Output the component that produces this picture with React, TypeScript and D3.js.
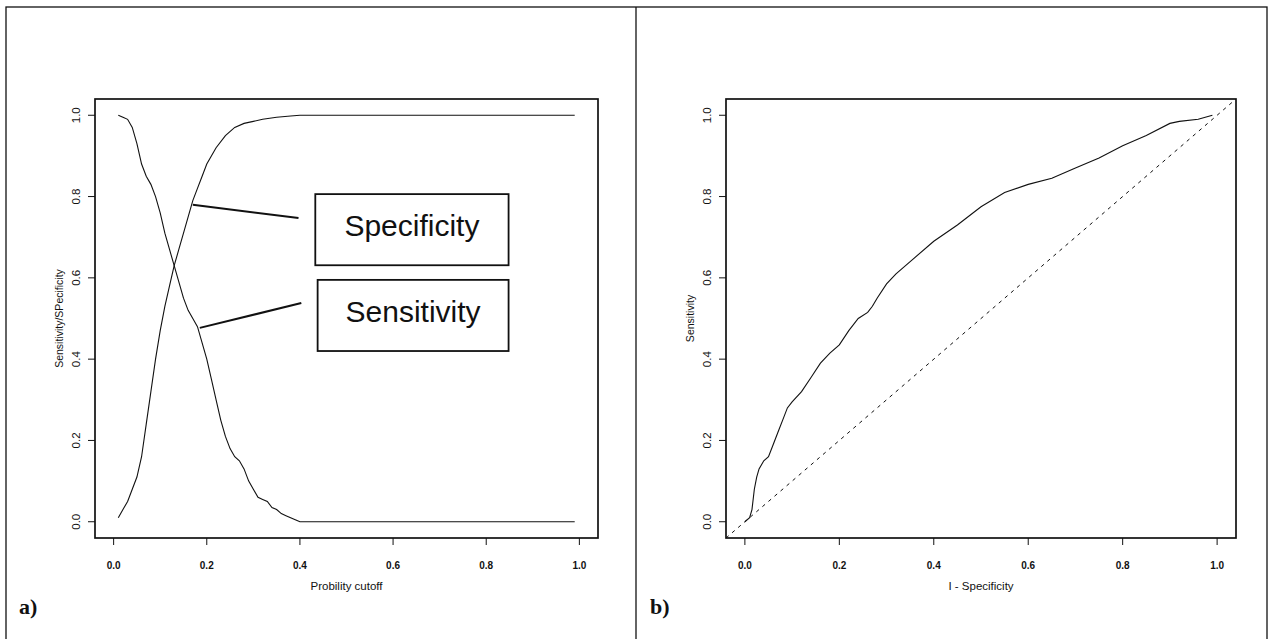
import React from "react";
import * as d3 from "d3";

// ---------- Data ----------
const specCutoff = [0.01,0.02,0.03,0.04,0.05,0.06,0.07,0.08,0.09,0.10,0.11,0.12,0.13,0.14,0.15,0.16,0.17,0.18,0.19,0.20,0.22,0.24,0.26,0.28,0.30,0.32,0.35,0.38,0.40,0.99];
const specValue = [0.01,0.03,0.05,0.08,0.11,0.16,0.24,0.32,0.40,0.47,0.53,0.58,0.63,0.67,0.71,0.75,0.79,0.82,0.85,0.88,0.92,0.95,0.97,0.98,0.985,0.99,0.995,0.998,1.0,1.0];

const sensCutoff = [0.01,0.02,0.03,0.04,0.05,0.06,0.07,0.08,0.09,0.10,0.11,0.12,0.13,0.14,0.15,0.16,0.17,0.18,0.19,0.20,0.21,0.22,0.23,0.24,0.25,0.26,0.27,0.28,0.29,0.30,0.31,0.32,0.33,0.34,0.35,0.36,0.37,0.38,0.39,0.40,0.99];
const sensValue = [1.0,0.995,0.99,0.97,0.93,0.88,0.85,0.83,0.80,0.76,0.71,0.67,0.63,0.59,0.55,0.52,0.50,0.48,0.44,0.40,0.35,0.30,0.25,0.21,0.18,0.16,0.15,0.13,0.10,0.08,0.06,0.055,0.05,0.035,0.03,0.02,0.015,0.01,0.005,0.0,0.0];

const rocFpr = [0,0.01,0.015,0.02,0.025,0.03,0.04,0.05,0.06,0.07,0.08,0.09,0.10,0.12,0.14,0.16,0.18,0.20,0.22,0.24,0.26,0.27,0.28,0.30,0.32,0.35,0.40,0.45,0.50,0.55,0.60,0.65,0.70,0.75,0.80,0.85,0.90,0.92,0.96,0.99];
const rocTpr = [0,0.01,0.03,0.08,0.11,0.13,0.15,0.16,0.19,0.22,0.25,0.28,0.295,0.32,0.355,0.39,0.415,0.435,0.47,0.50,0.515,0.53,0.55,0.585,0.61,0.64,0.69,0.73,0.775,0.81,0.83,0.845,0.87,0.895,0.925,0.95,0.98,0.985,0.99,1.0];

const xTicks = [0, 0.2, 0.4, 0.6, 0.8, 1.0];
const yTicks = [0, 0.2, 0.4, 0.6, 0.8, 1.0];

// annotation boxes (data coords of left panel)
const annLabels = ["Specificity", "Sensitivity"];
const annAnchorX = [0.17, 0.185];
const annAnchorY = [0.78, 0.477];
const annEndX = [0.397, 0.403];
const annEndY = [0.747, 0.538];
const annBoxX0 = [0.433, 0.438];
const annBoxX1 = [0.848, 0.848];
const annBoxY0 = [0.806, 0.595];
const annBoxY1 = [0.631, 0.42];

const W = 1270, H = 639;
const boxTop = 99, boxBottom = 538;

type PanelProps = {
  x0: number; x1: number;
  yLabel: string; xLabel: string; tag: string; tagX: number;
  children: (xs: d3.ScaleLinear<number, number>, ys: d3.ScaleLinear<number, number>) => React.ReactNode;
};

function Panel({ x0, x1, yLabel, xLabel, tag, tagX, children }: PanelProps) {
  const xs = d3.scaleLinear().domain([-0.04, 1.04]).range([x0, x1]);
  const ys = d3.scaleLinear().domain([-0.04, 1.04]).range([boxBottom, boxTop]);
  const fmt = d3.format(".1f");
  const cx = (x0 + x1) / 2;
  return (
    <g>
      {children(xs, ys)}
      <rect x={x0} y={boxTop} width={x1 - x0} height={boxBottom - boxTop} fill="none" stroke="#111" strokeWidth={1.7} />
      {xTicks.map((t) => (
        <g key={"x" + t}>
          <line x1={xs(t)} x2={xs(t)} y1={boxBottom} y2={boxBottom + 7} stroke="#111" strokeWidth={1} />
          <text x={xs(t)} y={569} textAnchor="middle" fontFamily="'Liberation Sans Narrow', 'Liberation Sans', Arial, sans-serif" fontWeight="bold" fontSize={10} fill="#111">{fmt(t)}</text>
        </g>
      ))}
      {yTicks.map((t) => (
        <g key={"y" + t}>
          <line x1={x0} x2={x0 - 7} y1={ys(t)} y2={ys(t)} stroke="#111" strokeWidth={1} />
          <text transform={`translate(${x0 - 15},${ys(t)}) rotate(-90)`} textAnchor="middle" fontFamily="'Liberation Sans', Arial, sans-serif" fontSize={11.5} fill="#111">{fmt(t)}</text>
        </g>
      ))}
      <text x={cx} y={590} textAnchor="middle" fontFamily="'Liberation Sans', Arial, sans-serif" fontSize={11.5} fill="#111">{xLabel}</text>
      <text transform={`translate(${x0 - 32},${(boxTop + boxBottom) / 2}) rotate(-90)`} textAnchor="middle" fontFamily="'Liberation Sans', Arial, sans-serif" fontSize={10.5} fill="#111">{yLabel}</text>
      <text x={tagX} y={614} fontFamily="'Liberation Serif', 'Times New Roman', serif" fontWeight="bold" fontSize={22} fill="#111">{tag}</text>
    </g>
  );
}

export default function App() {
  return (
    <svg width={W} height={H} style={{ position: "absolute", left: 0, top: 0, background: "#fff" }}>
      <rect x={0} y={0} width={W} height={H} fill="#fff" />
      {/* outer frame */}
      <rect x={6} y={7} width={1261} height={650} fill="none" stroke="#111" strokeWidth={1.3} />
      <line x1={636} x2={636} y1={7} y2={H} stroke="#111" strokeWidth={1.3} />

      <Panel x0={95} x1={598} yLabel="Sensitivity/SPecificity" xLabel="Probility cutoff" tag="a)" tagX={19}>
        {(xs, ys) => {
          const line = d3.line<[number, number]>().x((d) => xs(d[0])).y((d) => ys(d[1]));
          const spec = specCutoff.map((c, i) => [c, specValue[i]] as [number, number]);
          const sens = sensCutoff.map((c, i) => [c, sensValue[i]] as [number, number]);
          return (
            <g>
              <path d={line(spec) || ""} fill="none" stroke="#111" strokeWidth={1.1} />
              <path d={line(sens) || ""} fill="none" stroke="#111" strokeWidth={1.1} />
              {annLabels.map((lab, i) => (
                <g key={lab}>
                  <line x1={xs(annAnchorX[i])} y1={ys(annAnchorY[i])} x2={xs(annEndX[i])} y2={ys(annEndY[i])} stroke="#111" strokeWidth={2} />
                  <rect x={xs(annBoxX0[i])} y={ys(annBoxY0[i])} width={xs(annBoxX1[i]) - xs(annBoxX0[i])} height={ys(annBoxY1[i]) - ys(annBoxY0[i])} fill="none" stroke="#111" strokeWidth={1.8} />
                  <text x={(xs(annBoxX0[i]) + xs(annBoxX1[i])) / 2} y={ys(annBoxY0[i]) + 42} textAnchor="middle" fontFamily="'Liberation Sans', Arial, sans-serif" fontSize={30} fill="#111">{lab}</text>
                </g>
              ))}
            </g>
          );
        }}
      </Panel>

      <Panel x0={726} x1={1236} yLabel="Sensitivity" xLabel="I - Specificity" tag="b)" tagX={650}>
        {(xs, ys) => {
          const line = d3.line<[number, number]>().x((d) => xs(d[0])).y((d) => ys(d[1]));
          const roc = rocFpr.map((f, i) => [f, rocTpr[i]] as [number, number]);
          const diag: [number, number][] = [[-0.04, -0.04], [1.04, 1.04]];
          return (
            <g>
              <path d={line(diag) || ""} fill="none" stroke="#111" strokeWidth={1} strokeDasharray="3.5,4.5" />
              <path d={line(roc) || ""} fill="none" stroke="#111" strokeWidth={1.1} />
            </g>
          );
        }}
      </Panel>
    </svg>
  );
}
